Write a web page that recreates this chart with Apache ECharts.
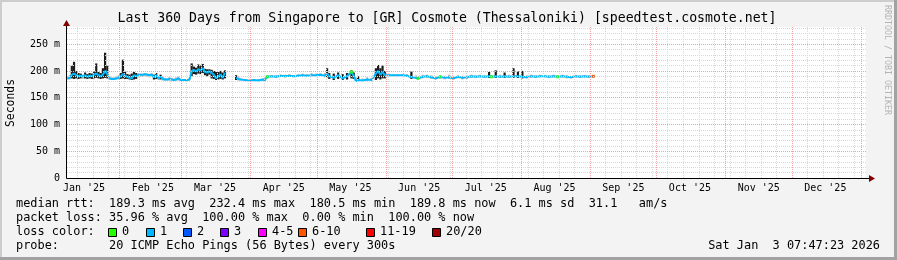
<!DOCTYPE html>
<html><head><meta charset="utf-8">
<script src="https://cdn.jsdelivr.net/npm/echarts@6/dist/echarts.min.js"></script>
<style>html,body{margin:0;padding:0;background:#f3f3f3}#c{width:897px;height:260px}</style>
</head><body><div id="c"></div>
<script>
const titleText = "Last 360 Days from Singapore to [GR] Cosmote (Thessaloniki) [speedtest.cosmote.net]";
const xTickMonths = ['2025-01','2025-02','2025-03','2025-04','2025-05','2025-06','2025-07','2025-08','2025-09','2025-10','2025-11','2025-12'];
const xTickLabels = ["Jan '25","Feb '25","Mar '25","Apr '25","May '25","Jun '25","Jul '25","Aug '25","Sep '25","Oct '25","Nov '25","Dec '25"];
const majorMonths = ['2025-02','2025-03','2025-04','2025-05','2025-06','2025-07','2025-08','2025-09','2025-10','2025-11','2025-12','2026-01'];
const yTickValues = [0,50,100,150,200,250];
const yTickLabels = ['0','50 m','100 m','150 m','200 m','250 m'];

const dates = ['2025-01-08','2025-01-09','2025-01-10','2025-01-11','2025-01-12','2025-01-13','2025-01-14','2025-01-15','2025-01-16','2025-01-17','2025-01-18','2025-01-19','2025-01-20','2025-01-21','2025-01-22','2025-01-23','2025-01-24','2025-01-25','2025-01-26','2025-01-27','2025-01-28','2025-01-29','2025-01-30','2025-01-31',
'2025-02-01','2025-02-02','2025-02-03','2025-02-04','2025-02-05','2025-02-06','2025-02-07','2025-02-08','2025-02-09','2025-02-10','2025-02-11','2025-02-12','2025-02-13','2025-02-14','2025-02-15','2025-02-16','2025-02-17','2025-02-18','2025-02-19','2025-02-20','2025-02-21','2025-02-22','2025-02-23','2025-02-24','2025-02-25','2025-02-26','2025-02-27','2025-02-28',
'2025-03-01','2025-03-02','2025-03-03','2025-03-04','2025-03-05','2025-03-06','2025-03-07','2025-03-08','2025-03-09','2025-03-10','2025-03-11','2025-03-12','2025-03-13','2025-03-14','2025-03-15','2025-03-16','2025-03-17','2025-03-18','2025-03-19','2025-03-20','2025-03-22',
'2025-03-25','2025-03-26','2025-03-27','2025-03-29','2025-03-31','2025-04-02','2025-04-04','2025-04-06','2025-04-07','2025-04-08','2025-04-10','2025-04-12','2025-04-14','2025-04-16','2025-04-18','2025-04-20','2025-04-22','2025-04-24','2025-04-26','2025-04-28','2025-04-30',
'2025-05-02','2025-05-04','2025-05-05','2025-05-06','2025-05-08','2025-05-10','2025-05-12','2025-05-14','2025-05-16','2025-05-17','2025-05-18','2025-05-19','2025-05-21','2025-05-23','2025-05-25','2025-05-27','2025-05-28','2025-05-29','2025-05-30','2025-05-31',
'2025-06-02','2025-06-04','2025-06-06','2025-06-08','2025-06-10','2025-06-12','2025-06-14','2025-06-15','2025-06-17','2025-06-19','2025-06-21','2025-06-23','2025-06-25','2025-06-27','2025-06-29',
'2025-07-01','2025-07-03','2025-07-05','2025-07-07','2025-07-09','2025-07-11','2025-07-13','2025-07-15','2025-07-17','2025-07-18','2025-07-20','2025-07-22','2025-07-24','2025-07-26','2025-07-28','2025-07-30',
'2025-08-01','2025-08-03','2025-08-05','2025-08-07','2025-08-09','2025-08-11','2025-08-13','2025-08-15','2025-08-17','2025-08-19','2025-08-21','2025-08-23','2025-08-25','2025-08-27','2025-08-29','2025-08-31','2025-09-02'];

const medianMs = [186,187,193,195,192,190,191,190,192,189,191,190,193,195,192,190,193,200,194,186,185,185,186,187,
190,194,191,189,187,186,192,190,193,193,193,194,193,192,193,188,192,186,189,185,184,184,185,184,183,184,186,183,
183,183,183,184,200,202,199,203,201,205,198,197,199,196,193,186,190,193,187,197,null,
187,185,184,183,182,183,182,184,183,189,190,189,191,190,191,190,191,192,191,192,192,
193,191,195,190,187,192,186,190,198,191,181,183,182,184,183,195,200,193,198,192,
192,192,192,192,191,188,187,186,189,190,188,186,189,187,188,
186,189,187,188,190,189,190,189,190,189,190,189,190,189,190,190,
189,188,190,189,190,190,189,190,189,190,189,188,190,189,190,189,190];

const smokeLoMs = [184,184,186,185,186,185,186,185,186,185,186,185,186,187,186,185,186,187,186,184,183,183,184,184,
185,186,185,185,184,183,184,185,188,189,189,190,189,188,189,184,185,183,184,182,182,182,182,182,181,182,182,181,
181,181,181,182,190,194,193,195,194,196,192,190,193,186,185,183,184,185,184,186,null,
183,182,182,181,181,181,181,181,181,186,188,187,189,188,189,188,189,189,189,190,190,
190,188,188,185,183,185,183,184,186,185,180,181,181,181,181,183,186,184,186,186,
190,190,190,190,189,185,185,184,186,187,185,184,185,184,185,
184,186,184,185,187,187,188,187,187,187,187,187,187,187,187,187,
186,186,188,187,188,188,187,188,187,188,186,186,188,187,188,187,188];

const smokeHiMs = [189,192,210,217,200,196,195,193,197,194,196,195,199,214,198,196,205,234,210,190,188,188,190,192,
196,221,200,194,193,195,198,196,196,195,195,196,195,195,196,193,196,190,193,190,187,186,189,187,186,188,190,186,
185,185,185,186,214,208,206,212,210,213,204,203,203,202,200,198,198,200,197,201,null,
192,190,187,185,184,185,185,186,187,192,192,192,193,193,194,192,194,195,194,196,195,
196,196,205,196,195,197,194,196,201,197,188,190,186,188,187,205,211,205,210,200,
195,194,194,194,194,199,192,190,193,193,192,190,192,191,193,
190,192,191,192,193,192,193,192,198,192,201,193,197,193,205,199,
200,192,193,192,193,192,192,193,192,193,192,191,192,192,192,192,192];

const lossZeroDates = ['2025-04-08','2025-05-16','2025-06-15','2025-06-25','2025-07-18','2025-08-17'];
const lossOrangeDates = ['2025-09-02'];

const lossLegend = ['0','1','2','3','4-5','6-10','11-19','20/20'];
const lossColors = ['#26ff00','#00b8ff','#0059ff','#7e00ff','#ff00ff','#ff5500','#ff0000','#a00000'];

const statLines = [
  'median rtt:  189.3 ms avg  232.4 ms max  180.5 ms min  189.8 ms now  6.1 ms sd  31.1   am/s',
  'packet loss: 35.96 % avg  100.00 % max  0.00 % min  100.00 % now',
  'loss color:',
  'probe:       20 ICMP Echo Pings (56 Bytes) every 300s'
];
const stampText = 'Sat Jan  3 07:47:23 2026';
const sideText = 'RRDTOOL / TOBI OETIKER';

const DAY = 86400000;
const start = new Date(2025,0,8,7,47,23).getTime();
const end = new Date(2026,0,3,7,47,23).getTime();
const yMax = 282;
const toT = s => { const p = s.split('-').map(Number); return new Date(p[0], p[1]-1, p[2], 12).getTime(); };
const monthStart = s => { const p = s.split('-').map(Number); return new Date(p[0], p[1]-1, 1).getTime(); };
const labelTimes = xTickMonths.map(m => monthStart(m) + 15*DAY);

const times = dates.map(toT);
const medianData = times.map((t,i)=>[t, medianMs[i]]);
const smokeData = times.map((t,i)=>[t, smokeLoMs[i], smokeHiMs[i]]);
const medianAt = d => medianMs[dates.indexOf(d)];
const zeroData = lossZeroDates.map(d=>[toT(d), medianAt(d)]);
const orangeData = lossOrangeDates.map(d=>[toT(d), medianAt(d)]);

const gridLines = [];
let wk = new Date(2025,0,13).getTime();
for (; wk < end; wk += 7*DAY) gridLines.push({xAxis: wk, lineStyle:{color:'#d8d8d8', type:[1,1], width:1}});
for (let v = 10; v < yMax; v += 10) if (v % 50) gridLines.push({yAxis: v, lineStyle:{color:'#d8d8d8', type:[1,1], width:1}});
majorMonths.forEach(m => gridLines.push({xAxis: monthStart(m), lineStyle:{color:'#f2a0a0', type:[1,1], width:1}}));
for (let v = 50; v < yMax; v += 50) gridLines.push({yAxis: v, lineStyle:{color:'#f2a0a0', type:[1,1], width:1}});

const FONT = '"DejaVu Sans Mono", monospace';
const chart = echarts.init(document.getElementById('c'), null, {renderer:'canvas'});
chart.setOption({
  animation: false,
  backgroundColor: '#f3f3f3',
  grid: {left:67, right:31, top:27, bottom:82, show:true, backgroundColor:'#ffffff', borderWidth:0},
  xAxis: {type:'value', min:start, max:end, scale:true,
    axisLine:{show:false}, axisTick:{show:false}, splitLine:{show:false},
    axisLabel:{customValues: labelTimes, formatter: v => { const i = labelTimes.indexOf(v); return i < 0 ? '' : xTickLabels[i]; }, fontFamily:FONT, fontSize:10, color:'#000', margin:5, hideOverlap:false}},
  yAxis: {type:'value', min:0, max:yMax,
    axisLine:{show:false}, axisTick:{show:false}, splitLine:{show:false},
    axisLabel:{customValues: yTickValues, formatter: v => { const i = yTickValues.indexOf(v); return i < 0 ? '' : yTickLabels[i]; }, fontFamily:FONT, fontSize:10, color:'#000', margin:7}},
  series: [
    {type:'line', name:'grid', data:[[start,null]], showSymbol:false, silent:true, z:1,
      markLine:{silent:true, symbol:['none','none'], label:{show:false}, animation:false, data:gridLines}},
    {type:'custom', name:'smoke', z:2, silent:true, data:smokeData,
      renderItem: (params, api) => {
        const lo = api.value(1), hi = api.value(2);
        if (isNaN(lo) || isNaN(hi)) return null;
        const t = api.value(0);
        const a = api.coord([t, hi]), b = api.coord([t, lo]);
        const dark = (hi - lo) > 8;
        return {type:'rect', shape:{x:a[0]-1.1, y:a[1], width:2.2, height:Math.max(1, b[1]-a[1])}, style:{fill: dark ? '#1c1c1c' : '#bcbcbc'}};
      }},
    {type:'line', name:'median', data:medianData, z:3, showSymbol:false, connectNulls:false, silent:true,
      lineStyle:{color:'#00b8ff', width:2}},
    {type:'scatter', name:'loss0', data:zeroData, z:4, symbol:'rect', symbolSize:[3,3], itemStyle:{color:'#26ff00'}, silent:true},
    {type:'scatter', name:'loss6', data:orangeData, z:4, symbol:'rect', symbolSize:[3,3], itemStyle:{color:'#ff5500'}, silent:true}
  ]
});

const p0 = chart.convertToPixel({xAxisIndex:0, yAxisIndex:0}, [start, 0]);
const p1 = chart.convertToPixel({xAxisIndex:0, yAxisIndex:0}, [end, yMax]);
const ax = Math.floor(p0[0]) - 0.5, ay = Math.floor(p0[1]) + 0.5;
const els = [
  {type:'rect', shape:{x:0,y:0,width:897,height:2}, style:{fill:'#cdcdcd'}, silent:true},
  {type:'rect', shape:{x:0,y:0,width:2,height:260}, style:{fill:'#cdcdcd'}, silent:true},
  {type:'rect', shape:{x:0,y:257,width:897,height:3}, style:{fill:'#a2a2a2'}, silent:true},
  {type:'rect', shape:{x:894,y:0,width:3,height:260}, style:{fill:'#a2a2a2'}, silent:true},
  {type:'line', shape:{x1:ax, y1:ay, x2:p1[0]+4, y2:ay}, style:{stroke:'#000', lineWidth:1}, z:100, silent:true},
  {type:'line', shape:{x1:ax, y1:ay, x2:ax, y2:p1[1]-2}, style:{stroke:'#000', lineWidth:1}, z:100, silent:true},
  {type:'polygon', shape:{points:[[p1[0]+3, ay-3.5],[p1[0]+9, ay],[p1[0]+3, ay+3.5]]}, style:{fill:'#800000'}, z:101, silent:true},
  {type:'polygon', shape:{points:[[ax-3.5, p1[1]-1],[ax, p1[1]-7],[ax+3.5, p1[1]-1]]}, style:{fill:'#800000'}, z:101, silent:true},
  {type:'text', style:{text:titleText, x:447, y:19, align:'center', verticalAlign:'middle', font:'13.2px '+FONT, fill:'#000'}, silent:true},
  {type:'text', x:11, y:103, rotation:Math.PI/2, style:{text:'Seconds', x:0, y:0, align:'center', verticalAlign:'middle', font:'11.4px '+FONT, fill:'#000'}, silent:true},
  {type:'text', x:887, y:60, rotation:-Math.PI/2, style:{text:sideText, x:0, y:0, align:'center', verticalAlign:'middle', font:'8.3px '+FONT, fill:'#b4b4b4'}, silent:true},
  {type:'text', style:{text:stampText, x:880, y:246, align:'right', verticalAlign:'middle', font:'11.9px '+FONT, fill:'#000'}, silent:true}
];
const rowY = [204, 218, 232, 246];
statLines.forEach((s,i)=>els.push({type:'text', style:{text:s, x:16, y:rowY[i], verticalAlign:'middle', font:'11.9px '+FONT, fill:'#000'}, silent:true}));
const boxX = [108,146,183,220,258,298,366,432];
lossLegend.forEach((l,i)=>{
  els.push({type:'rect', shape:{x:boxX[i]+0.5, y:228.5, width:8, height:8}, style:{fill:lossColors[i], stroke:'#000', lineWidth:1}, silent:true});
  els.push({type:'text', style:{text:l, x:boxX[i]+14, y:232, verticalAlign:'middle', font:'11.9px '+FONT, fill:'#000'}, silent:true});
});
chart.setOption({graphic:{elements:els}});
</script></body></html>
